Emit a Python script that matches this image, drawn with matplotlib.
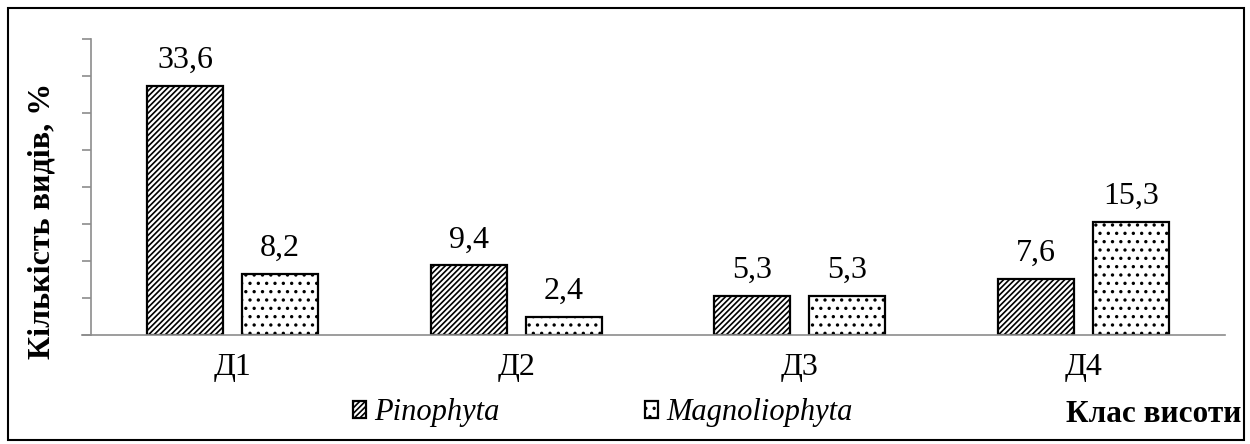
import numpy as np
import matplotlib.pyplot as plt
from matplotlib.patches import Rectangle
from matplotlib.font_manager import FontProperties

categories = ['Д1', 'Д2', 'Д3', 'Д4']
pinophyta = [33.6, 9.4, 5.3, 7.6]
magnoliophyta = [8.2, 2.4, 5.3, 15.3]
series_names = ['Pinophyta', 'Magnoliophyta']

plt.rcParams['font.family'] = ['Liberation Serif', 'DejaVu Serif']
plt.rcParams['hatch.linewidth'] = 1.2

fig = plt.figure(figsize=(12.5, 4.44), dpi=100)
ax = fig.add_axes([0.0728, 0.2455, 0.9072, 0.6665])

x = np.arange(len(categories))
width = 0.268
offset = 0.1675

b1 = ax.bar(x - offset, pinophyta, width, color='white', edgecolor='black',
            linewidth=1.6, hatch='//////', label=series_names[0])
b2 = ax.bar(x + offset, magnoliophyta, width, color='white', edgecolor='black',
            linewidth=1.6, hatch='..', label=series_names[1])

for bars, vals in ((b1, pinophyta), (b2, magnoliophyta)):
    ax.bar_label(bars, labels=[f'{v:.1f}'.replace('.', ',') for v in vals],
                 padding=8, fontsize=23)

ax.set_xlim(-0.5, len(categories) - 0.5)
ax.set_ylim(0, 40)
ax.set_yticks(np.arange(0, 41, 5))
ax.set_yticklabels([])
ax.set_xticks(x)
ax.set_xticklabels(categories, fontsize=23)
ax.tick_params(axis='x', length=0, pad=13)
ax.tick_params(axis='y', length=6.5, width=1.2, color='#8c8c8c')

for s in ('top', 'right'):
    ax.spines[s].set_visible(False)
for s in ('left', 'bottom'):
    ax.spines[s].set_color('#8c8c8c')
    ax.spines[s].set_linewidth(1.2)
ax.spines['bottom'].set_bounds(-0.5 - 0.03, len(categories) - 0.5)

ax.set_ylabel('Кількість видів, %', fontsize=23, fontweight='bold')
ax.yaxis.set_label_coords(-0.0305, 0.385)

leg_font = FontProperties(family='Liberation Serif', style='italic', size=22)
leg = fig.legend(handles=[b1, b2], loc='center', bbox_to_anchor=(0.482, 0.07),
                 ncol=2, frameon=False, handlelength=0.45, handleheight=0.45,
                 handletextpad=0.25, columnspacing=4.75, prop=leg_font)

fig.text(0.993, 0.066, 'Клас висоти', ha='right', va='center',
         fontsize=22.5, fontweight='bold')

fig.patches.append(Rectangle((0.0064, 0.009), 0.989, 0.973, transform=fig.transFigure,
                             fill=False, edgecolor='black', linewidth=1.5))

fig.savefig('out.png', dpi=100)
